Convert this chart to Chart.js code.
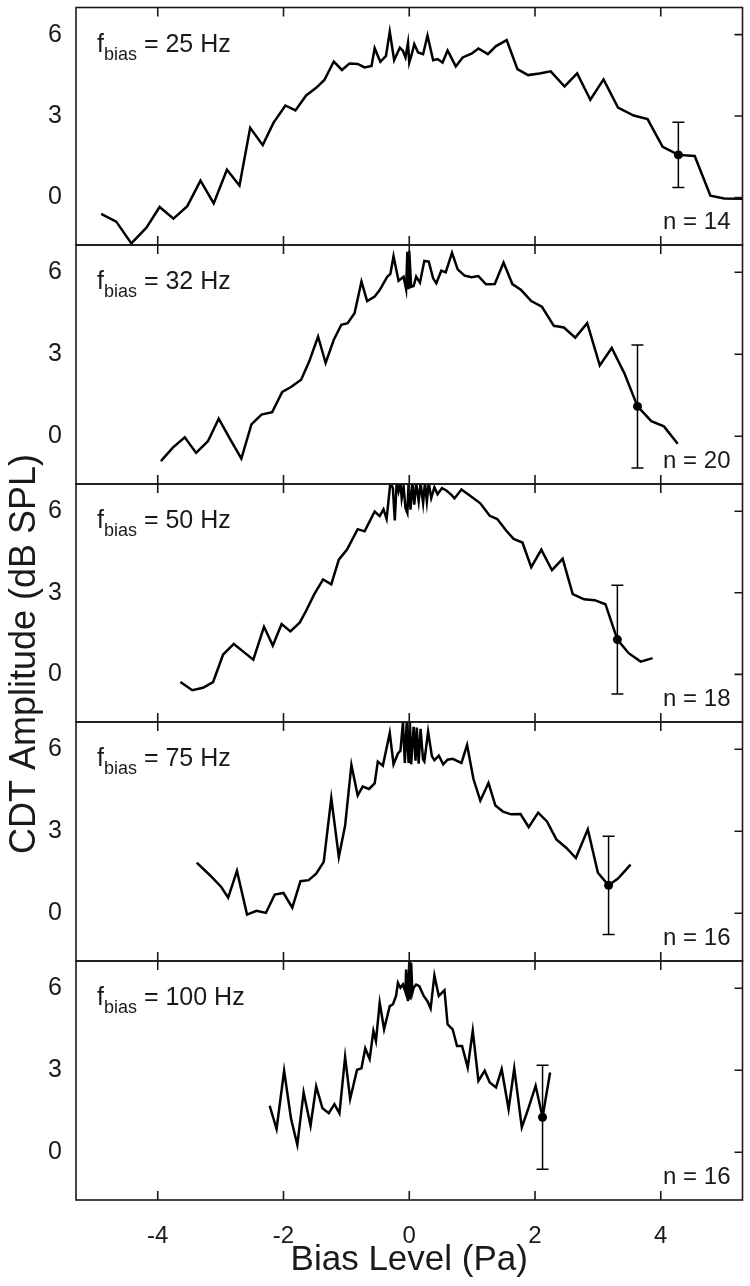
<!DOCTYPE html>
<html>
<head>
<meta charset="utf-8">
<title>CDT amplitude vs bias level</title>
<script src="https://cdn.jsdelivr.net/npm/chart.js@4"></script>
<style>
  html, body { margin: 0; padding: 0; background: #fff; }
  #wrap { position: relative; width: 750px; height: 1286px; }
  #wrap canvas { position: absolute; left: 0; top: 0; }
</style>
</head>
<body>
<div id="wrap"></div>
<script>
// axis ticks
const xTicks = [-4, -2, 0, 2, 4];
const yTicks = [0, 3, 6];

// one panel per bias frequency
const freqs = [25, 32, 50, 75, 100];
const nSubjects = [14, 20, 18, 16, 16];

// bias level (Pa) / CDT amplitude (dB SPL)
const bias25 = [-4.90,-4.66,-4.42,-4.18,-3.97,-3.75,-3.53,-3.32,-3.11,-2.90,-2.70,-2.53,-2.33,-2.16,-1.97,-1.81,-1.64,-1.48,-1.35,-1.20,-1.07,-0.95,-0.82,-0.71,-0.60,-0.55,-0.46,-0.37,-0.31,-0.24,-0.15,-0.10,-0.06,-0.02,0.00,0.04,0.08,0.14,0.22,0.29,0.38,0.45,0.53,0.61,0.74,0.85,0.99,1.10,1.25,1.38,1.55,1.72,1.89,2.07,2.25,2.47,2.67,2.88,3.09,3.32,3.57,3.79,4.03,4.28,4.54,4.79,5.01,5.30];
const cdt25  = [-0.60,-0.89,-1.69,-1.11,-0.35,-0.78,-0.32,0.62,-0.22,1.02,0.44,2.57,1.93,2.75,3.39,3.21,3.76,4.04,4.33,5.01,4.70,4.94,4.92,4.79,4.85,5.50,5.00,5.22,6.11,5.06,5.52,5.40,5.16,5.70,4.97,5.28,5.65,5.34,5.28,5.97,5.06,5.10,4.97,5.42,4.83,5.16,5.30,5.49,5.28,5.58,5.80,4.73,4.51,4.57,4.65,4.09,4.57,3.60,4.35,3.31,3.02,2.89,1.87,1.57,1.53,0.07,-0.04,-0.05];

const bias32 = [-3.95,-3.76,-3.57,-3.39,-3.20,-3.03,-2.86,-2.67,-2.51,-2.35,-2.18,-2.02,-1.88,-1.72,-1.59,-1.45,-1.33,-1.20,-1.08,-0.98,-0.87,-0.76,-0.67,-0.55,-0.47,-0.35,-0.30,-0.25,-0.17,-0.09,-0.05,-0.03,-0.01,0.00,0.03,0.07,0.11,0.17,0.24,0.31,0.38,0.43,0.51,0.58,0.68,0.77,0.88,0.99,1.10,1.22,1.36,1.50,1.64,1.78,1.94,2.11,2.30,2.46,2.64,2.83,3.03,3.22,3.42,3.63,3.85,4.05,4.27];
const cdt32  = [-0.91,-0.42,-0.04,-0.61,-0.18,0.64,-0.06,-0.82,0.43,0.79,0.88,1.62,1.80,2.07,2.74,3.65,2.68,3.53,4.08,4.14,4.50,5.66,4.95,5.11,5.35,5.84,5.94,6.59,5.69,5.84,5.38,6.75,5.38,6.79,5.47,5.50,5.84,5.62,6.42,6.39,5.78,5.60,6.06,6.00,6.72,6.11,5.88,5.82,5.86,5.56,5.57,6.36,5.57,5.35,4.95,4.74,4.04,3.98,3.61,4.14,2.59,3.23,2.31,1.09,0.55,0.36,-0.28];

const bias50 = [-3.64,-3.45,-3.28,-3.12,-2.96,-2.79,-2.63,-2.48,-2.31,-2.17,-2.03,-1.89,-1.74,-1.64,-1.51,-1.37,-1.24,-1.12,-0.99,-0.82,-0.71,-0.55,-0.47,-0.41,-0.36,-0.30,-0.26,-0.23,-0.20,-0.17,-0.14,-0.12,-0.09,-0.06,-0.03,-0.01,0.02,0.05,0.08,0.11,0.15,0.18,0.22,0.25,0.28,0.31,0.35,0.40,0.45,0.52,0.59,0.67,0.72,0.83,0.99,1.13,1.28,1.40,1.54,1.66,1.80,1.94,2.10,2.27,2.44,2.60,2.78,2.95,3.12,3.31,3.49,3.68,3.87];
const cdt50  = [-0.28,-0.58,-0.49,-0.28,0.73,1.12,0.82,0.54,1.75,1.06,1.85,1.58,1.91,2.34,2.95,3.49,3.31,4.22,4.59,5.34,5.26,5.99,5.82,6.07,5.72,7.05,6.84,5.66,7.05,6.73,7.05,6.48,6.90,6.12,5.94,7.05,6.06,7.05,6.24,7.05,6.36,7.05,6.30,7.05,6.36,7.05,6.48,6.88,6.62,6.85,6.76,6.60,6.47,6.80,6.53,6.29,5.83,5.71,5.29,4.98,4.85,3.94,4.59,3.83,4.25,2.95,2.76,2.73,2.58,1.28,0.78,0.47,0.60];

const bias75 = [-3.38,-3.17,-2.99,-2.88,-2.74,-2.58,-2.43,-2.28,-2.14,-2.00,-1.86,-1.73,-1.60,-1.48,-1.36,-1.24,-1.12,-1.02,-0.92,-0.82,-0.74,-0.64,-0.55,-0.50,-0.42,-0.31,-0.25,-0.18,-0.14,-0.10,-0.07,-0.04,-0.01,0.01,0.03,0.07,0.10,0.12,0.15,0.18,0.22,0.24,0.30,0.36,0.40,0.47,0.54,0.61,0.69,0.83,0.92,1.02,1.13,1.26,1.37,1.49,1.62,1.77,1.90,2.05,2.19,2.34,2.50,2.65,2.84,3.00,3.17,3.32,3.52];
const cdt75  = [1.85,1.39,0.96,0.57,1.55,-0.05,0.09,0.01,0.68,0.74,0.20,1.17,1.21,1.45,1.88,4.21,2.06,3.21,5.43,4.31,4.64,4.55,4.75,5.55,5.40,6.60,5.45,5.85,5.95,6.99,5.50,6.99,5.50,7.05,5.45,6.82,5.58,6.80,5.47,6.75,5.62,5.55,6.65,5.75,5.60,5.77,5.45,5.62,5.65,5.50,6.16,4.92,4.12,4.77,3.94,3.72,3.62,3.63,3.15,3.68,3.36,2.70,2.39,2.02,3.07,1.48,1.02,1.27,1.78];

const bias100 = [-2.22,-2.11,-1.99,-1.88,-1.78,-1.68,-1.57,-1.48,-1.38,-1.28,-1.19,-1.11,-1.02,-0.94,-0.83,-0.76,-0.70,-0.63,-0.57,-0.53,-0.47,-0.40,-0.31,-0.26,-0.21,-0.18,-0.14,-0.10,-0.06,-0.05,-0.03,-0.02,0.00,0.01,0.02,0.03,0.05,0.07,0.11,0.16,0.23,0.29,0.34,0.40,0.47,0.56,0.61,0.69,0.76,0.84,0.93,1.01,1.10,1.20,1.28,1.38,1.47,1.58,1.67,1.79,1.90,2.01,2.12,2.24];
const cdt100  = [1.70,0.85,2.98,1.22,0.27,2.19,0.97,2.41,1.61,1.43,1.76,1.42,3.49,1.95,3.02,3.07,3.80,3.41,4.44,4.07,5.47,4.50,5.35,5.41,5.72,6.20,6.02,6.14,5.86,6.69,5.70,5.53,6.99,5.59,6.60,6.93,5.84,6.02,6.14,6.08,5.72,5.53,5.26,6.47,5.72,5.93,4.68,4.50,3.89,3.89,3.10,4.44,2.61,2.98,2.55,2.37,3.04,1.58,3.07,0.91,1.64,2.43,1.28,2.92];

// the one point per panel drawn with its error bar
const errBias = [4.28, 3.63, 3.31, 3.17, 2.12];
const errMean = [1.57, 1.09, 1.28, 1.02, 1.28];
const errSD   = [1.20, 2.25, 2.00, 1.80, 1.90];

const seriesX = [bias25, bias32, bias50, bias75, bias100];
const seriesY = [cdt25, cdt32, cdt50, cdt75, cdt100];

const FONT = '"Liberation Sans", Arial, Helvetica, sans-serif';
const INK = '#1a1a1a';
const W = 750, H = 1286;
const plotLeft = 76, plotRight = 743, plotTop = 6, panelH = 238.8;
const xAxisH = 86;

// frame, inward ticks and the labels of each panel
const panelDeco = {
  id: 'panelDeco',
  afterDraw(chart, args, opts) {
    const { ctx, chartArea: a, scales } = chart;
    const i = opts.index;
    ctx.save();
    ctx.strokeStyle = INK;
    ctx.lineWidth = 1.6;
    ctx.strokeRect(a.left, a.top, a.right - a.left, a.bottom - a.top);
    ctx.beginPath();
    scales.x.ticks.forEach(t => {
      const px = scales.x.getPixelForValue(t.value);
      ctx.moveTo(px, a.top); ctx.lineTo(px, a.top + 9);
      ctx.moveTo(px, a.bottom); ctx.lineTo(px, a.bottom - 9);
    });
    scales.y.ticks.forEach(t => {
      const py = scales.y.getPixelForValue(t.value);
      ctx.moveTo(a.right, py); ctx.lineTo(a.right - 8, py);
    });
    ctx.stroke();

    ctx.fillStyle = INK;
    ctx.textBaseline = 'alphabetic';
    ctx.textAlign = 'left';
    let x = a.left + 21;
    const y = a.top + 44;
    ctx.font = '25px ' + FONT;
    ctx.fillText('f', x, y);
    x += ctx.measureText('f').width;
    ctx.font = '18px ' + FONT;
    ctx.fillText('bias', x, y + 8);
    x += ctx.measureText('bias').width;
    ctx.font = '25px ' + FONT;
    ctx.fillText(' = ' + freqs[i] + ' Hz', x, y);
    ctx.font = '24px ' + FONT;
    ctx.textAlign = 'right';
    ctx.fillText('n = ' + nSubjects[i], a.right - 12, a.bottom - 16);

    // shared y title, drawn once from the middle panel
    if (opts.yTitle) {
      ctx.translate(35, 654);
      ctx.rotate(-Math.PI / 2);
      ctx.textAlign = 'center';
      ctx.font = '36px ' + FONT;
      ctx.fillText(opts.yTitle, 0, 0);
    }
    ctx.restore();
  }
};

function forceSize(prop, size) {
  return scale => {
    scale[prop] = size;
    scale.paddingTop = scale.paddingBottom = scale.paddingLeft = scale.paddingRight = 0;
  };
}

const wrap = document.getElementById('wrap');

freqs.forEach((f, i) => {
  const top = Math.round(plotTop + i * panelH);
  const bottom = Math.round(plotTop + (i + 1) * panelH);
  const last = i === freqs.length - 1;

  const canvas = document.createElement('canvas');
  canvas.width = W;
  canvas.height = H;
  wrap.appendChild(canvas);

  const line = seriesX[i].map((b, k) => ({ x: b, y: seriesY[i][k] }));
  const bar = [
    { x: errBias[i], y: errMean[i] - errSD[i] },
    { x: errBias[i], y: errMean[i] + errSD[i] }
  ];

  new Chart(canvas.getContext('2d'), {
    type: 'line',
    data: {
      datasets: [
        { data: line, borderColor: '#000', borderWidth: 2.5, pointRadius: 0, tension: 0 },
        { data: bar, borderColor: '#000', borderWidth: 1.5, pointStyle: 'line',
          pointRadius: 6, pointBorderWidth: 1.5, pointBorderColor: '#000' },
        { data: [{ x: errBias[i], y: errMean[i] }], showLine: false, pointRadius: 4.5,
          pointBackgroundColor: '#000', pointBorderColor: '#000', pointBorderWidth: 0 }
      ]
    },
    options: {
      responsive: false,
      animation: false,
      events: [],
      layout: { padding: { left: 0, right: W - plotRight, top: top,
                           bottom: H - bottom - (last ? xAxisH : 0) } },
      plugins: {
        legend: { display: false },
        tooltip: { enabled: false },
        panelDeco: { index: i, yTitle: i === 2 ? 'CDT Amplitude (dB SPL)' : null }
      },
      scales: {
        x: {
          type: 'linear', min: -5.3, max: 5.3,
          afterBuildTicks: s => { s.ticks = xTicks.map(v => ({ value: v })); },
          afterFit: forceSize('height', last ? xAxisH : 0),
          grid: { display: false, drawTicks: false },
          border: { display: false },
          ticks: { display: last, padding: 22, color: INK, font: { family: FONT, size: 24 } },
          title: { display: last, text: 'Bias Level (Pa)', color: INK,
                   padding: { top: 0, bottom: 5 }, font: { family: FONT, size: 35 } }
        },
        y: {
          type: 'linear', min: -1.75, max: 7,
          afterBuildTicks: s => { s.ticks = yTicks.map(v => ({ value: v })); },
          afterFit: forceSize('width', plotLeft),
          grid: { display: false, drawTicks: false },
          border: { display: false },
          ticks: { padding: 14, color: INK, font: { family: FONT, size: 25 } }
        }
      }
    },
    plugins: [panelDeco]
  });
});
</script>
</body>
</html>
